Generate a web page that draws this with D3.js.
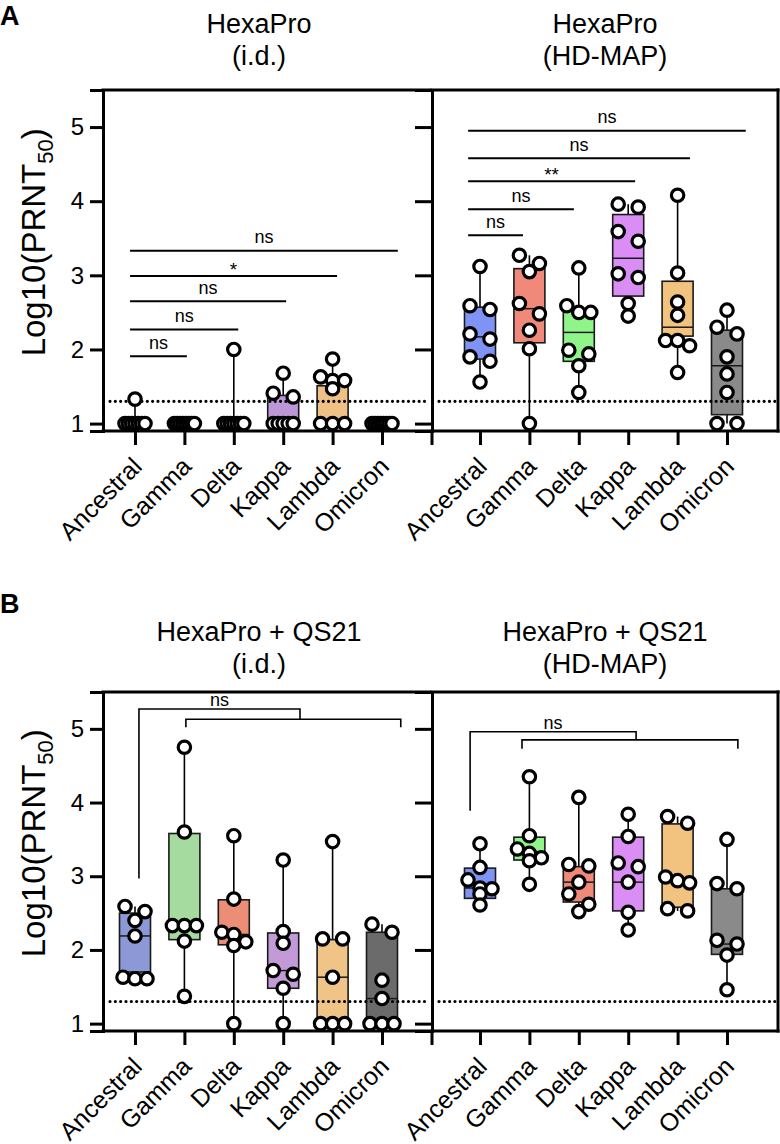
<!DOCTYPE html>
<html><head><meta charset="utf-8">
<script src="https://cdn.jsdelivr.net/npm/d3@7/dist/d3.min.js"></script>
<style>
body{margin:0;background:#fff;}
text{font-family:"Liberation Sans",Arial,Helvetica,sans-serif;fill:#000;}
</style></head><body>
<svg id="chart" width="780" height="1144"></svg>
<script>
// ---------------- DATA ----------------
const categories = ["Ancestral","Gamma","Delta","Kappa","Lambda","Omicron"];
const yTicks = [1,2,3,4,5];
const yDomain = [0.9, 5.5];
const limitOfDetection = 1.3;

// points (log10 PRNT50)
const ptsA_id = [
  [1,1,1,1,1,1,1,1.33],
  [1,1,1,1,1,1,1,1],
  [1,1,1,1,1,1,1,2.0],
  [1,1,1,1,1,1.36,1.41,1.68],
  [1,1,1,1.47,1.58,1.58,1.63,1.87],
  [1,1,1,1,1,1,1,1]
];
const ptsA_map = [
  [3.12,2.59,2.54,2.21,2.14,1.90,1.84,1.56],
  [3.27,3.16,3.05,2.62,2.48,2.26,2.01,1.0],
  [3.10,2.59,2.50,2.50,1.99,1.94,1.78,1.42],
  [3.96,3.92,3.59,3.46,3.02,2.97,2.62,2.45],
  [4.08,3.03,2.64,2.46,2.12,2.12,2.05,1.69],
  [2.53,2.30,2.21,1.90,1.67,1.42,1.0,1.0]
];
const ptsB_id = [
  [2.59,2.52,2.40,2.19,1.63,1.61,1.61],
  [4.75,3.60,2.33,2.33,2.33,2.12,1.37],
  [3.55,2.69,2.24,2.21,2.11,2.06,1.0],
  [3.22,2.25,2.09,1.72,1.67,1.48,1.0],
  [3.47,2.15,2.15,1.63,1.0,1.0,1.0],
  [2.35,2.24,1.59,1.34,1.0,1.0,1.0]
];
const ptsB_map = [
  [3.44,3.12,2.95,2.84,2.83,2.76,2.61],
  [4.35,3.55,3.37,3.31,3.25,3.21,2.89],
  [4.07,3.16,3.14,2.92,2.76,2.62,2.52],
  [3.84,3.54,3.18,3.13,2.92,2.51,2.27],
  [3.81,3.72,2.99,2.94,2.91,2.56,2.53],
  [3.50,2.90,2.83,2.13,2.08,1.93,1.46]
];

// box stats: [whisker low, q1, median, q3, whisker high]
const boxA_id = [
  [1,1,1,1,1.33],[1,1,1,1,1],[1,1,1,1,2.0],[1,1,1,1.38,1.68],[1,1,1,1.51,1.87],[1,1,1,1,1]
];
const boxA_map = [
  [1.56,1.87,2.17,2.57,3.12],[1.0,2.09,2.55,3.09,3.27],[1.42,1.84,2.23,2.53,3.10],
  [2.45,2.72,3.23,3.82,3.96],[1.69,2.18,2.30,2.92,4.08],[1.0,1.12,1.78,2.26,2.53]
];
const boxB_id = [
  [1.61,1.70,2.19,2.50,2.59],[1.37,2.14,2.33,3.58,4.75],[1.0,2.07,2.21,2.68,3.55],
  [1.0,1.48,1.72,2.23,3.22],[1.0,1.0,1.63,2.14,3.47],[1.0,1.0,1.34,2.24,2.35]
];
const boxB_map = [
  [2.61,2.70,2.84,3.11,3.44],[2.89,3.22,3.33,3.53,4.35],[2.52,2.65,2.92,3.13,4.07],
  [2.27,2.53,2.92,3.53,3.84],[2.53,2.58,2.94,3.71,3.81],[1.46,1.94,2.08,2.83,3.50]
];

// colours per category
const colorsA_id  = ["#8c99d6","#f0897a","#8ff58b","#bb97d8","#f0c186","#8a8a8a"];
const colorsA_map = ["#7f93f5","#f0897a","#8ff58b","#da8ef5","#f2c27f","#8a8a8a"];
const colorsB_id  = ["#8c99d6","#a6dba0","#ec8e76","#c29ad8","#f0c386","#6b6b6b"];
const colorsB_map = ["#7f93f5","#8ff58b","#f0897a","#da8ef5","#f2c27f","#8a8a8a"];

// significance lines (from/to in category-index units from first category)
const sigA_id = [
  {from:-0.1, to:1.05, y:1.91, label:"ns"},
  {from:-0.1, to:2.09, y:2.27, label:"ns"},
  {from:-0.1, to:3.06, y:2.65, label:"ns"},
  {from:-0.1, to:4.09, y:2.99, label:"*"},
  {from:-0.1, to:5.32, y:3.33, label:"ns"}
];
const sigA_map = [
  {from:-0.24, to:0.87, y:3.54, label:"ns"},
  {from:-0.24, to:1.90, y:3.89, label:"ns"},
  {from:-0.24, to:3.14, y:4.27, label:"**"},
  {from:-0.24, to:4.25, y:4.58, label:"ns"},
  {from:-0.24, to:5.38, y:4.95, label:"ns"}
];
const bracketB_id  = {legAt:0.08, legLow:2.97, outerY:5.27, outerEnd:3.34, innerY:5.13, innerFrom:1.03, innerTo:5.38, innerLegLow:5.02, label:"ns"};
const bracketB_map = {legAt:-0.2, legLow:3.89, outerY:4.96, outerEnd:3.16, innerY:4.85, innerFrom:0.85, innerTo:5.22, innerLegLow:4.73, label:"ns"};

const titles = {
  A_id:["HexaPro","(i.d.)"], A_map:["HexaPro","(HD-MAP)"],
  B_id:["HexaPro + QS21","(i.d.)"], B_map:["HexaPro + QS21","(HD-MAP)"]
};

// ---------------- LAYOUT ----------------
const rows = {
  A:{top:90, bottom:431, titleY:[33,65], letterY:25},
  B:{top:692, bottom:1031, titleY:[641,673], letterY:613}
};
const cols = {
  left:{axisX:103, right:430, first:135, last:382, titleX:259},
  right:{axisX:432, right:778, first:480, last:727, titleX:605}
};
const panels = [
  {row:"A", col:"left",  pts:ptsA_id,  box:boxA_id,  colors:colorsA_id,  sig:sigA_id,  title:titles.A_id},
  {row:"A", col:"right", pts:ptsA_map, box:boxA_map, colors:colorsA_map, sig:sigA_map, title:titles.A_map},
  {row:"B", col:"left",  pts:ptsB_id,  box:boxB_id,  colors:colorsB_id,  bracket:bracketB_id,  title:titles.B_id},
  {row:"B", col:"right", pts:ptsB_map, box:boxB_map, colors:colorsB_map, bracket:bracketB_map, title:titles.B_map}
];

const svg = d3.select("#chart");
const BOXW = 31, R = 6.2;

function dodge(vals, y){
  const s = vals.map(v=>({v, py:y(v)})).sort((a,b)=>a.py-b.py);
  const groups=[]; let cur=null;
  s.forEach(p=>{ if(cur && p.py-cur[0].py<11) cur.push(p); else {cur=[p]; groups.push(cur);} });
  groups.forEach(g=>{
    const n=g.length;
    const offs = n===1?[0]: n===2?[-10,10]: n===3?[-12,0,12] : d3.range(n).map(i=>-10+20*i/(n-1));
    g.forEach((p,i)=>p.dx=offs[i]);
  });
  return s;
}

panels.forEach(P=>{
  const row=rows[P.row], col=cols[P.col];
  const y=d3.scaleLinear().domain(yDomain).range([row.bottom,row.top]);
  const x=d3.scalePoint().domain(categories).range([col.first,col.last]);
  const step=x.step();
  const g=svg.append("g");

  // frame
  g.append("line").attr("x1",col.axisX).attr("x2",col.right).attr("y1",row.top).attr("y2",row.top)
    .attr("stroke","#000").attr("stroke-width",3).attr("stroke-linecap","square");
  if(P.col==="right"){
    g.append("line").attr("x1",col.right).attr("x2",col.right).attr("y1",row.top).attr("y2",row.bottom)
      .attr("stroke","#000").attr("stroke-width",3).attr("stroke-linecap","square");
  }

  // boxes
  categories.forEach((c,i)=>{
    const b=P.box[i], cx=x(c);
    g.append("line").attr("x1",cx).attr("x2",cx).attr("y1",y(b[4])).attr("y2",y(b[3])).attr("stroke","#000").attr("stroke-width",1.6);
    g.append("line").attr("x1",cx).attr("x2",cx).attr("y1",y(b[1])).attr("y2",y(b[0])).attr("stroke","#000").attr("stroke-width",1.6);
    g.append("rect").attr("x",cx-BOXW/2).attr("width",BOXW).attr("y",y(b[3])).attr("height",y(b[1])-y(b[3]))
      .attr("fill",P.colors[i]).attr("stroke","#1a1a1a").attr("stroke-width",1.6);
    g.append("line").attr("x1",cx-BOXW/2).attr("x2",cx+BOXW/2).attr("y1",y(b[2])).attr("y2",y(b[2])).attr("stroke","#1a1a1a").attr("stroke-width",1.5);
  });

  // limit of detection
  g.append("line").attr("x1",col.axisX+7).attr("x2",col.right-3).attr("y1",y(limitOfDetection)).attr("y2",y(limitOfDetection))
    .attr("stroke","#000").attr("stroke-width",3.2).attr("stroke-dasharray","0,5.33").attr("stroke-linecap","round");

  // points
  categories.forEach((c,i)=>{
    dodge(P.pts[i],y).forEach(p=>{
      g.append("circle").attr("cx",x(c)+p.dx).attr("cy",y(p.v)).attr("r",R)
        .attr("fill","#fff").attr("stroke","#000").attr("stroke-width",3.2);
    });
  });

  // y axis
  const ya=d3.axisLeft(y).tickValues(yTicks).tickSizeOuter(0);
  if(P.col==="left") ya.tickSize(13).tickPadding(6).tickFormat(d3.format("d"));
  else ya.tickSize(17).tickFormat("");
  const yg=g.append("g").attr("transform",`translate(${col.axisX},0)`).call(ya);
  yg.select(".domain").attr("stroke-width",3);
  yg.selectAll(".tick line").attr("stroke-width",3);
  yg.selectAll(".tick text").attr("font-size",24).attr("font-family","Liberation Sans, Arial, sans-serif");

  // x axis
  const xa=d3.axisBottom(x).tickSize(14).tickSizeOuter(0);
  const xg=g.append("g").attr("transform",`translate(0,${row.bottom})`).call(xa);
  xg.select(".domain").remove();
  xg.selectAll(".tick line").attr("stroke-width",3);
  xg.selectAll(".tick text").attr("font-size",25).attr("font-family","Liberation Sans, Arial, sans-serif")
    .attr("text-anchor","end").attr("dy",0).attr("y",0)
    .attr("transform","translate(8,37) rotate(-45)");
  g.append("line").attr("x1",col.axisX-1.5).attr("x2",col.right+1.5).attr("y1",row.bottom).attr("y2",row.bottom)
    .attr("stroke","#000").attr("stroke-width",3);
  if(P.col==="right"){
    g.append("line").attr("x1",col.axisX).attr("x2",col.axisX).attr("y1",row.bottom).attr("y2",row.bottom+14)
      .attr("stroke","#000").attr("stroke-width",3);
  }

  // significance lines
  const x0=x(categories[0]);
  if(P.sig){
    P.sig.forEach(s=>{
      const xa1=x0+s.from*step, xa2=x0+s.to*step, yy=y(s.y);
      g.append("line").attr("x1",xa1).attr("x2",xa2).attr("y1",yy).attr("y2",yy).attr("stroke","#000").attr("stroke-width",2);
      g.append("text").attr("x",(xa1+xa2)/2).attr("y",s.label.includes("*")?yy:yy-7.5)
        .attr("text-anchor","middle").attr("font-size",s.label.includes("*")?19:18).text(s.label);
    });
  }
  if(P.bracket){
    const b=P.bracket;
    const lx=x0+b.legAt*step, ex=x0+b.outerEnd*step, ix1=x0+b.innerFrom*step, ix2=x0+b.innerTo*step;
    const path=d3.path();
    path.moveTo(lx,y(b.legLow)); path.lineTo(lx,y(b.outerY)); path.lineTo(ex,y(b.outerY)); path.lineTo(ex,y(b.innerY));
    path.moveTo(ix1,y(b.innerLegLow)); path.lineTo(ix1,y(b.innerY)); path.lineTo(ix2,y(b.innerY)); path.lineTo(ix2,y(b.innerLegLow));
    g.append("path").attr("d",path.toString()).attr("fill","none").attr("stroke","#000").attr("stroke-width",1.6);
    g.append("text").attr("x",(lx+ex)/2).attr("y",y(b.outerY)-3).attr("text-anchor","middle").attr("font-size",18).text(b.label);
  }

  // title
  P.title.forEach((t,k)=>{
    g.append("text").attr("x",col.titleX).attr("y",row.titleY[k]).attr("text-anchor","middle").attr("font-size",27).text(t);
  });

  // y label
  if(P.col==="left"){
    const mid=(y(1)+y(5))/2 - 33;
    const t=g.append("text").attr("transform",`translate(45,${mid}) rotate(-90)`).attr("text-anchor","middle").attr("font-size",33);
    t.append("tspan").text("Log10(PRNT");
    t.append("tspan").attr("font-size",22).attr("dy",8).text("50");
    t.append("tspan").attr("dy",-8).text(")");
    g.append("text").attr("x",0).attr("y",row.letterY).attr("font-size",27).attr("font-weight","bold").text(P.row);
  }
});
</script>
</body></html>
